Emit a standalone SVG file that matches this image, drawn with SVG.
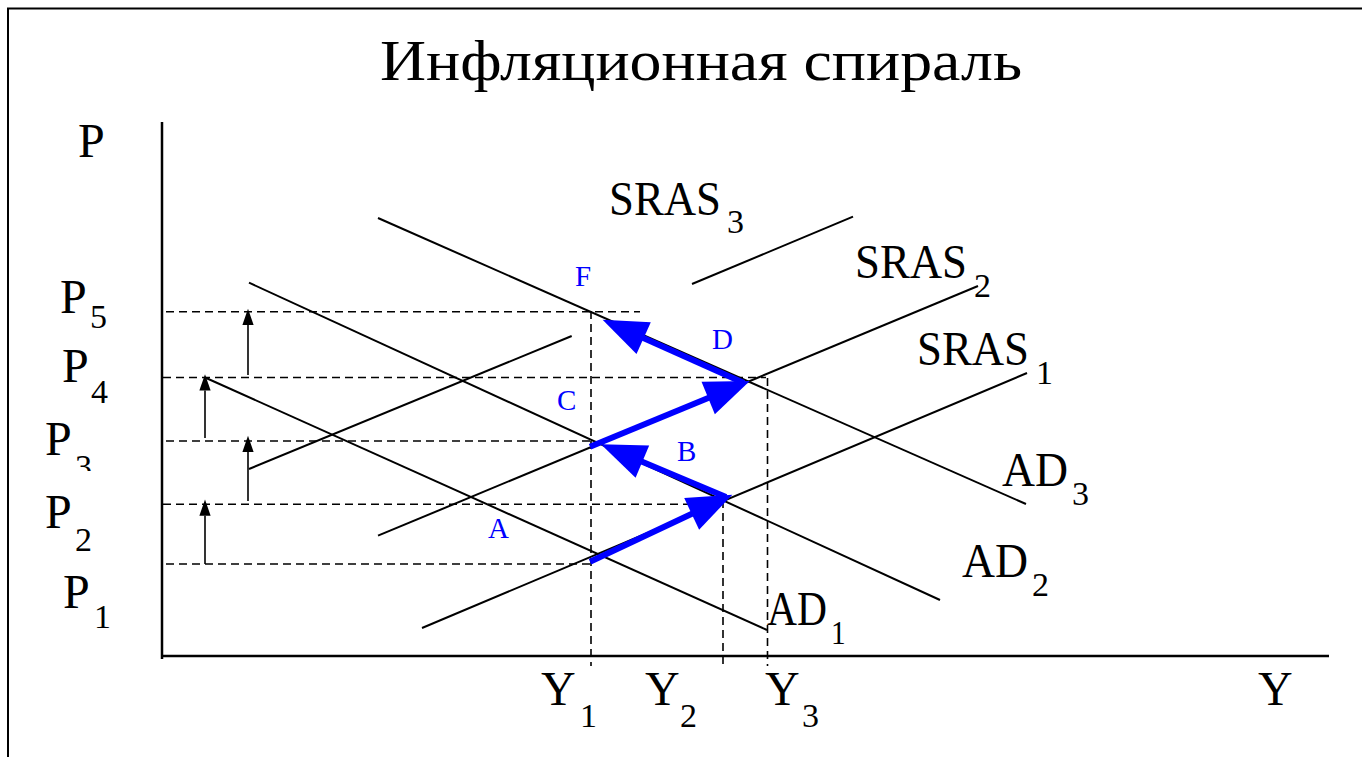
<svg xmlns="http://www.w3.org/2000/svg" width="1362" height="757" viewBox="0 0 1362 757">
<style>
.t{font-family:"Liberation Serif","Times New Roman",serif;fill:#000}
.m{font-size:48px}
.s{font-size:34px}
.b{font-family:"Liberation Serif","Times New Roman",serif;fill:#0000ff;font-size:29px}
.ln{stroke:#000;stroke-width:2;fill:none}
.ax{stroke:#000;stroke-width:2.5;fill:none}
.dash{stroke:#000;stroke-width:1.6;stroke-dasharray:8 5;fill:none}
.ba{stroke:#000;stroke-width:1.6;fill:none}
.blue{stroke:#0000ff;stroke-width:6;fill:none}
</style>
<defs>
<marker id="bh" markerUnits="userSpaceOnUse" markerWidth="50" markerHeight="40" viewBox="-12 -15 40 30" refX="0" refY="0" orient="auto" overflow="visible">
<path d="M-11,-14 L25,0 L-11,14 Z" fill="#0000ff"/>
</marker>
<marker id="kh" markerUnits="userSpaceOnUse" markerWidth="20" markerHeight="20" viewBox="-2 -6 16 12" refX="0" refY="0" orient="auto" overflow="visible">
<path d="M0,-4.5 L13,0 L0,4.5 Z" fill="#000"/>
</marker>
<clipPath id="c3"><rect x="30" y="400" width="80" height="71"/></clipPath>
</defs>
<rect width="1362" height="757" fill="#fff"/>
<path d="M8,757 V8.5 H1362" fill="none" stroke="#000" stroke-width="2"/>
<text class="t" x="380" y="80" font-size="58" textLength="642" lengthAdjust="spacingAndGlyphs">Инфляционная спираль</text>

<g id="axes">
<path class="ax" d="M162,122 V659"/>
<path class="ax" d="M161,656 H1329"/>
</g>

<g id="guides">
<path class="dash" d="M166,311.7 H640"/>
<path class="dash" d="M163,377.5 H766"/>
<path class="dash" d="M166,441 H592"/>
<path class="dash" d="M163,504.3 H723"/>
<path class="dash" d="M166,564 H595"/>
<path class="dash" d="M591,311 V666"/>
<path class="dash" d="M723,500 V666"/>
<path class="dash" d="M767.5,378 V666"/>
</g>

<g id="AD1"><path class="ln" d="M205,377.5 L767,630"/></g>
<g id="AD2"><path class="ln" d="M249,282.7 L940,600"/></g>
<g id="AD3"><path class="ln" d="M378,218 L1026,504"/></g>
<g id="SRAS1"><path class="ln" d="M422,628 L1027,373"/></g>
<g id="SRAS2"><path class="ln" d="M378,535.7 L978,286"/></g>
<g id="SRAS3"><path class="ln" d="M249,469 L571.7,336"/><path class="ln" d="M692,284 L853,216.7"/></g>

<g id="connectors">
<path class="ba" d="M248,375 V325" marker-end="url(#kh)"/>
<path class="ba" d="M205,438 V390.5" marker-end="url(#kh)"/>
<path class="ba" d="M248,501 V452" marker-end="url(#kh)"/>
<path class="ba" d="M205,564 V515.7" marker-end="url(#kh)"/>
<path class="blue" d="M590,561.7 L704.1,508" marker-end="url(#bh)"/>
<path class="blue" d="M726,497 L629.7,456.4" marker-end="url(#bh)"/>
<path class="blue" d="M590,446.7 L720.9,392.8" marker-end="url(#bh)"/>
<path class="blue" d="M744,383 L631.1,332.5" marker-end="url(#bh)"/>
</g>

<g id="labels">
<text class="t m" x="78" y="157">P</text>
<text class="t m" x="60" y="313">P<tspan class="s" x="90" y="328">5</tspan></text>
<text class="t m" x="62" y="382">P<tspan class="s" x="91" y="403">4</tspan></text>
<text class="t m" x="45" y="455" clip-path="url(#c3)">P<tspan class="s" x="75" y="478">3</tspan></text>
<text class="t m" x="45" y="528">P<tspan class="s" x="75" y="551">2</tspan></text>
<text class="t m" x="63" y="608">P<tspan class="s" x="94" y="628">1</tspan></text>

<text class="t m" x="609" y="215" font-size="46"><tspan textLength="112" lengthAdjust="spacingAndGlyphs">SRAS</tspan><tspan class="s" x="727" y="233">3</tspan></text>
<text class="t m" x="855" y="278" font-size="46"><tspan textLength="112" lengthAdjust="spacingAndGlyphs">SRAS</tspan><tspan class="s" x="974" y="297">2</tspan></text>
<text class="t m" x="917" y="365" font-size="46"><tspan textLength="112" lengthAdjust="spacingAndGlyphs">SRAS</tspan><tspan class="s" x="1036" y="384">1</tspan></text>
<text class="t m" x="1002" y="486" font-size="46"><tspan textLength="66" lengthAdjust="spacingAndGlyphs">AD</tspan><tspan class="s" x="1072" y="505">3</tspan></text>
<text class="t m" x="962" y="577" font-size="46"><tspan textLength="66" lengthAdjust="spacingAndGlyphs">AD</tspan><tspan class="s" x="1032" y="596">2</tspan></text>
<text class="t m" x="0" y="0" font-size="46" transform="translate(767,625) scale(0.865,1)">AD<tspan class="s" x="74" y="19">1</tspan></text>

<text class="t m" x="541" y="705">Y<tspan class="s" x="580" y="727">1</tspan></text>
<text class="t m" x="645" y="705">Y<tspan class="s" x="680" y="727">2</tspan></text>
<text class="t m" x="765" y="705">Y<tspan class="s" x="802" y="727">3</tspan></text>
<text class="t m" x="1258" y="705">Y</text>

<text class="b" x="575" y="286">F</text>
<text class="b" x="712" y="349">D</text>
<text class="b" x="557" y="410">C</text>
<text class="b" x="677" y="461">B</text>
<text class="b" x="488" y="538">A</text>
</g>
</svg>
